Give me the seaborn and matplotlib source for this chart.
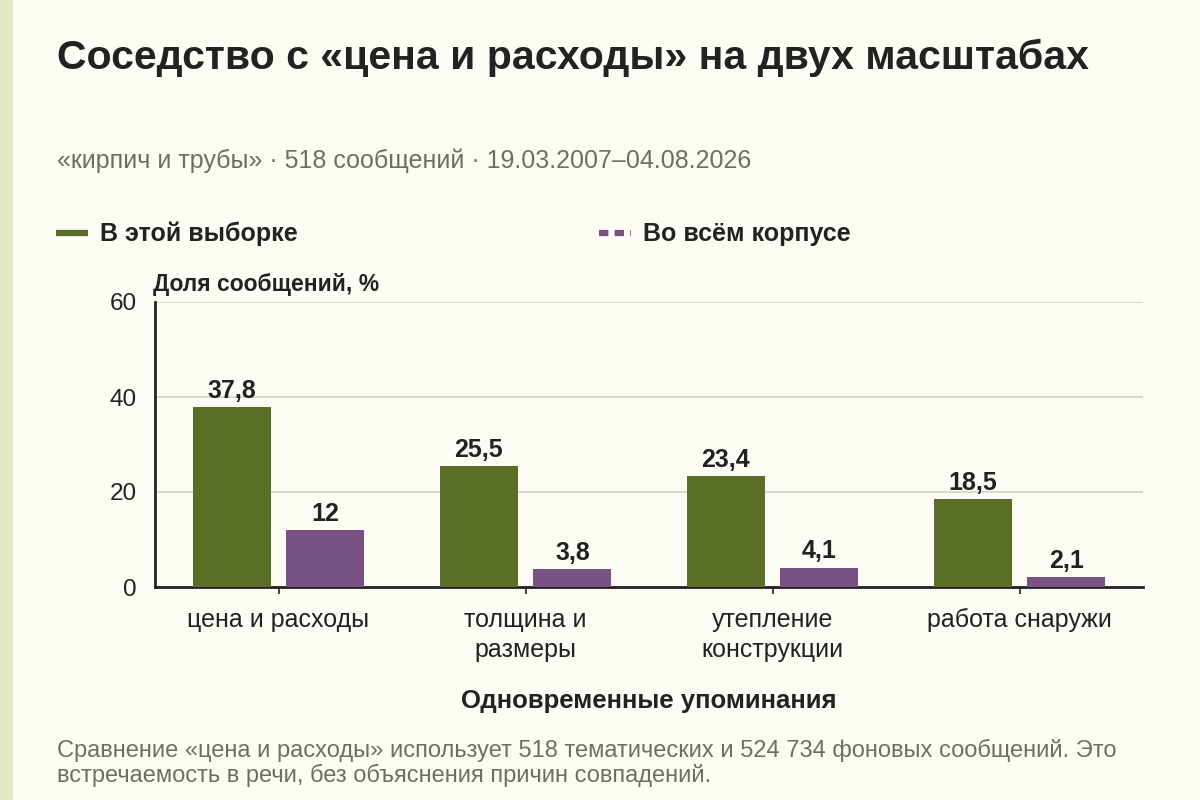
import matplotlib
matplotlib.use("Agg")
import matplotlib.pyplot as plt
from matplotlib.lines import Line2D
from matplotlib.patches import Rectangle
import seaborn as sns
import pandas as pd

categories = ["цена и расходы", "толщина и\nразмеры", "утепление\nконструкции", "работа снаружи"]
series_names = ["В этой выборке", "Во всём корпусе"]
sample_values = [37.8, 25.5, 23.4, 18.5]
corpus_values = [12, 3.8, 4.1, 2.1]
y_ticks = [0, 20, 40, 60]

title = "Соседство с «цена и расходы» на двух масштабах"
subtitle = "«кирпич и трубы» · 518 сообщений · 19.03.2007–04.08.2026"
y_label = "Доля сообщений, %"
x_label = "Одновременные упоминания"
note1 = "Сравнение «цена и расходы» использует 518 тематических и 524 734 фоновых сообщений. Это"
note2 = "встречаемость в речи, без объяснения причин совпадений."

BG = "#fdfcf4"
GREEN = "#5a6e28"
PURPLE = "#775283"
DARK = "#222222"
MUTED = "#6e705f"

sns.set_theme(style="white")
plt.rcParams["font.family"] = ["Liberation Sans", "DejaVu Sans"]

df = pd.DataFrame({
    "cat": categories * 2,
    "series": [series_names[0]] * 4 + [series_names[1]] * 4,
    "value": sample_values + corpus_values,
})

fig = plt.figure(figsize=(12, 8), dpi=100, facecolor=BG)
fig.patches.append(Rectangle((0, 0), 13 / 1200, 1, transform=fig.transFigure,
                             facecolor="#e1e7c3", edgecolor="none", zorder=0))
ax = fig.add_axes([155 / 1200, 1 - 587 / 800, (1143 - 155) / 1200, (587 - 302) / 800])
ax.set_facecolor(BG)

sns.barplot(data=df, x="cat", y="value", hue="series", order=categories,
            hue_order=series_names, palette=[GREEN, PURPLE], width=0.76, gap=0.17,
            saturation=1, ax=ax, legend=False, zorder=3, linewidth=0)

def fmt(v):
    s = f"{v:.1f}"
    if s.endswith(".0"):
        s = s[:-2]
    return s.replace(".", ",")

for cont in ax.containers:
    ax.bar_label(cont, labels=[fmt(b.get_height()) for b in cont], padding=3,
                 fontsize=18, fontweight="bold", color=DARK)

ax.set_ylim(0, 60)
ax.set_xlim(-0.5, 3.5)
ax.set_yticks(y_ticks)
ax.yaxis.grid(True, color="#d3d3c9", linewidth=1.2, zorder=0)
ax.set_axisbelow(True)
for s in ["top", "right"]:
    ax.spines[s].set_visible(False)
for s in ["left", "bottom"]:
    ax.spines[s].set_color(DARK)
    ax.spines[s].set_linewidth(2)
ax.tick_params(axis="y", length=0, pad=13, labelsize=17.5, labelcolor=DARK)
ax.tick_params(axis="x", length=5, width=1.2, color=DARK, pad=10, labelsize=18, labelcolor=DARK,
               bottom=True)
for lab in ax.get_xticklabels():
    lab.set_linespacing(1.3)

ax.set_xlabel(x_label, fontsize=18.5, fontweight="bold", color=DARK, labelpad=20)
ax.set_ylabel(y_label, fontsize=16.5, fontweight="bold", color=DARK, rotation=0,
              ha="left", va="bottom")
ax.yaxis.set_label_coords(-0.002, 1.02)

fig.text(57 / 1200, 1 - 69 / 800, title, fontsize=29.5, fontweight="bold", color=DARK,
         va="baseline", ha="left")
fig.text(57 / 1200, 1 - 168 / 800, subtitle, fontsize=18, color=MUTED,
         va="baseline", ha="left")
fig.text(57 / 1200, 1 - 757 / 800, note1, fontsize=17, color=MUTED, va="baseline", ha="left")
fig.text(57 / 1200, 1 - 782 / 800, note2, fontsize=17, color=MUTED, va="baseline", ha="left")

handles = [Line2D([0], [0], color=GREEN, lw=4.5, solid_capstyle="butt"),
           Line2D([0], [0], color=PURPLE, lw=4.5, linestyle=(0, (1.5, 1.0)), dash_capstyle="butt")]
leg = fig.legend(handles, series_names, loc="center left", bbox_to_anchor=(56 / 1200, 1 - 234 / 800),
                 ncol=2, frameon=False, borderpad=0, borderaxespad=0, handlelength=1.28,
                 handletextpad=0.48, columnspacing=12.05,
                 prop={"family": ["Liberation Sans", "DejaVu Sans"], "weight": "bold", "size": 18})
for t in leg.get_texts():
    t.set_color(DARK)

fig.savefig("out.png", dpi=100, facecolor=BG)
